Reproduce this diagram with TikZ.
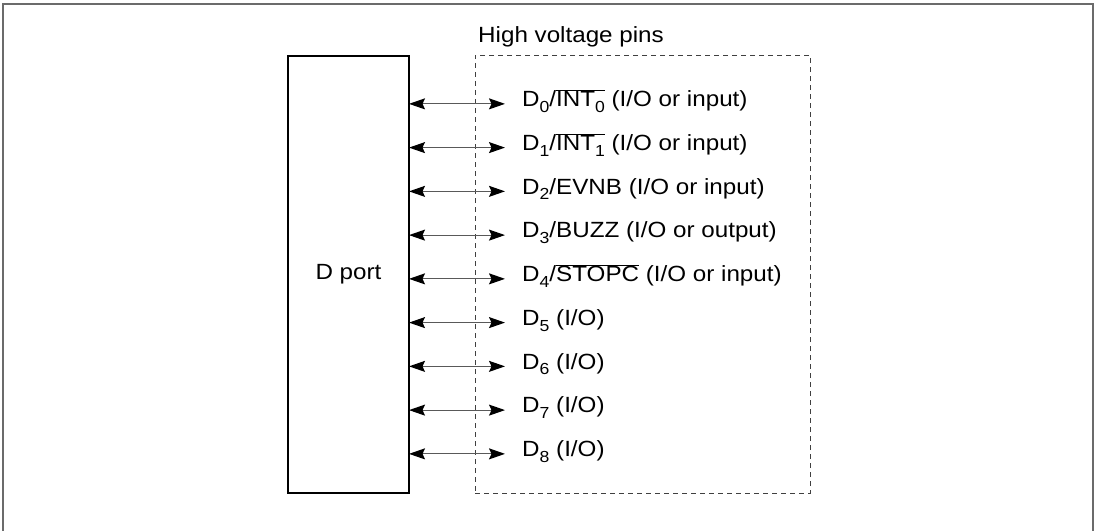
\documentclass[tikz,border=0pt]{standalone}
\usepackage{fontspec}
\setmainfont[FakeStretch=1.1]{Liberation Sans}
\usepackage{tikz}
\usetikzlibrary{arrows.meta,positioning,calc}

\newcommand{\pinsub}[1]{\raisebox{-0.27em}{\fontsize{16}{17}\selectfont #1}}
\newcommand{\pinbar}[1]{$\overline{\mbox{#1}}$}

\begin{document}
\begin{tikzpicture}[x=1pt,y=-1pt,
    font=\fontsize{22}{26}\selectfont,
    frame/.style={draw=black!58,line width=2pt},
    portbox/.style={draw,line width=1.3pt,minimum width=121pt,minimum height=437pt,inner sep=0pt,outer sep=0pt},
    hvbox/.style={draw=black!75,line width=0.9pt,dash pattern=on 5pt off 4pt,minimum width=335pt,minimum height=438pt,inner sep=0pt,outer sep=0pt},
    pin/.style={anchor=base west,inner sep=0pt},
    pinarrow/.style={{Stealth[length=16pt,width=11pt,inset=2.5pt,color=black]}-{Stealth[length=16pt,width=11pt,inset=2.5pt,color=black]},draw=black!65,line width=1.2pt}]
  \useasboundingbox (0,0) rectangle (1097,530);
  \draw[frame] (3,531) -- (3,3.5) -- (1093,3.5) -- (1093,531);
  \node[portbox] (dport) at (348.5,274.5) {D port};
  \node[hvbox] (hvbox) at (642.5,274) {};
  \node[pin] (hvlabel) at (478,42) {High voltage pins};
  % pins
  \node[pin] (pin0) at (522,106.5) {D\pinsub{0}/\pinbar{INT\pinsub{0}} (I/O or input)};
  \node[pin] (pin1) at (522,150.25) {D\pinsub{1}/\pinbar{INT\pinsub{1}} (I/O or input)};
  \node[pin] (pin2) at (522,194) {D\pinsub{2}/EVNB (I/O or input)};
  \node[pin] (pin3) at (522,237.75) {D\pinsub{3}/BUZZ (I/O or output)};
  \node[pin] (pin4) at (522,281.5) {D\pinsub{4}/\pinbar{STOPC} (I/O or input)};
  \node[pin] (pin5) at (522,325.25) {D\pinsub{5} (I/O)};
  \node[pin] (pin6) at (522,369) {D\pinsub{6} (I/O)};
  \node[pin] (pin7) at (522,412.75) {D\pinsub{7} (I/O)};
  \node[pin] (pin8) at (522,456.5) {D\pinsub{8} (I/O)};
  % arrows
  \draw[pinarrow] (dport.east |- pin0.mid) -- ([xshift=-17pt]pin0.mid west);
  \draw[pinarrow] (dport.east |- pin1.mid) -- ([xshift=-17pt]pin1.mid west);
  \draw[pinarrow] (dport.east |- pin2.mid) -- ([xshift=-17pt]pin2.mid west);
  \draw[pinarrow] (dport.east |- pin3.mid) -- ([xshift=-17pt]pin3.mid west);
  \draw[pinarrow] (dport.east |- pin4.mid) -- ([xshift=-17pt]pin4.mid west);
  \draw[pinarrow] (dport.east |- pin5.mid) -- ([xshift=-17pt]pin5.mid west);
  \draw[pinarrow] (dport.east |- pin6.mid) -- ([xshift=-17pt]pin6.mid west);
  \draw[pinarrow] (dport.east |- pin7.mid) -- ([xshift=-17pt]pin7.mid west);
  \draw[pinarrow] (dport.east |- pin8.mid) -- ([xshift=-17pt]pin8.mid west);
\end{tikzpicture}
\end{document}
